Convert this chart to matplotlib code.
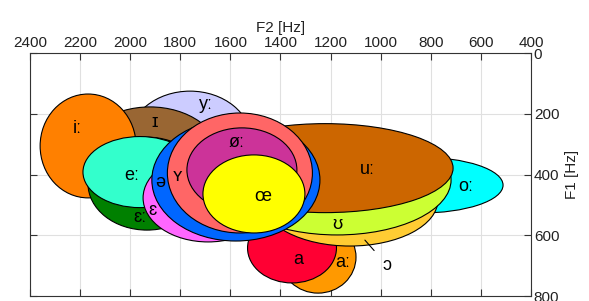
import matplotlib.pyplot as plt
from matplotlib.patches import Ellipse

plt.rcParams['font.family'] = ['Liberation Sans', 'DejaVu Sans']

# ellipses, listed back to front
vowels = ['yː', 'ɪ', 'iː', 'ɛː', 'eː', 'aː', 'a', 'oː', 'ɔ', 'ʊ', 'uː', 'ɛ', 'ə', 'ʏ', 'øː', 'œ']
f2_center = [1761, 1921, 2168, 1933, 1961, 1250, 1354, 843, 1123, 1174, 1222, 1689, 1578, 1562, 1554, 1506]
f1_center = [290, 342, 306, 430, 392, 672, 642, 435, 484, 418, 379, 477, 418, 395, 385, 464]
f2_width = [491, 559, 383, 471, 455, 303, 355, 663, 703, 910, 1022, 519, 671, 579, 439, 407]
f1_height = [329, 329, 342, 306, 234, 237, 230, 184, 303, 362, 293, 290, 402, 395, 277, 257]
colors = ['#CCCCFF', '#996633', '#FF8000', '#008000', '#33FFCC', '#FF9900', '#FF0033', '#00FFFF',
          '#FFCC33', '#CCFF33', '#CC6600', '#FF66FF', '#0066FF', '#FF6666', '#CC3399', '#FFFF00']
# where each symbol is written
label_f2 = [1697, 1901, 2212, 1961, 1993, 1150, 1330, 659, 975, 1174, 1055, 1909, 1881, 1813, 1574, 1470]
label_f1 = [171, 230, 247, 543, 402, 691, 681, 441, 698, 566, 385, 517, 425, 408, 296, 474]

fig = plt.figure(figsize=(5.89, 3.01), dpi=100)
ax = fig.add_axes([0.0509, 0.0166, 0.8506, 0.8073])

for i in range(len(vowels)):
    e = Ellipse((f2_center[i], f1_center[i]), f2_width[i], f1_height[i],
                facecolor=colors[i], edgecolor='black', lw=0.8, zorder=2 + i)
    ax.add_patch(e)

for i in range(len(vowels)):
    if vowels[i] == 'ɔ':
        continue
    ax.text(label_f2[i], label_f1[i], vowels[i], ha='center', va='center',
            fontsize=13, zorder=30)

# the open o sits outside its ellipse, with a pointer line
ax.annotate('ɔ', xy=(1063, 616), xytext=(label_f2[8], label_f1[8]),
            ha='center', va='center', fontsize=13, zorder=30,
            arrowprops=dict(arrowstyle='-', color='black', lw=0.8, shrinkB=0, shrinkA=6))

ax.set_xlim(2400, 400)
ax.set_ylim(800, 0)
ax.set_xticks(range(2400, 399, -200))
ax.set_yticks(range(0, 801, 200))
ax.xaxis.tick_top()
ax.yaxis.tick_right()
ax.tick_params(direction='in', length=5, top=True, bottom=True, left=True, right=True,
               labeltop=True, labelbottom=False, labelleft=False, labelright=True,
               labelsize=11, color='#333333', labelcolor='#222222', pad=2)
ax.xaxis.set_label_position('top')
ax.yaxis.set_label_position('right')
ax.set_xlabel('F2 [Hz]', fontsize=11, color='#222222', labelpad=3)
ax.set_ylabel('F1 [Hz]', fontsize=11, color='#222222', labelpad=4)
ax.grid(True, color='#e0e0e0', lw=0.8, zorder=0)
ax.set_axisbelow(True)
for s in ax.spines.values():
    s.set_color('#333333')
    s.set_linewidth(0.8)

fig.savefig('out.png', dpi=100)
